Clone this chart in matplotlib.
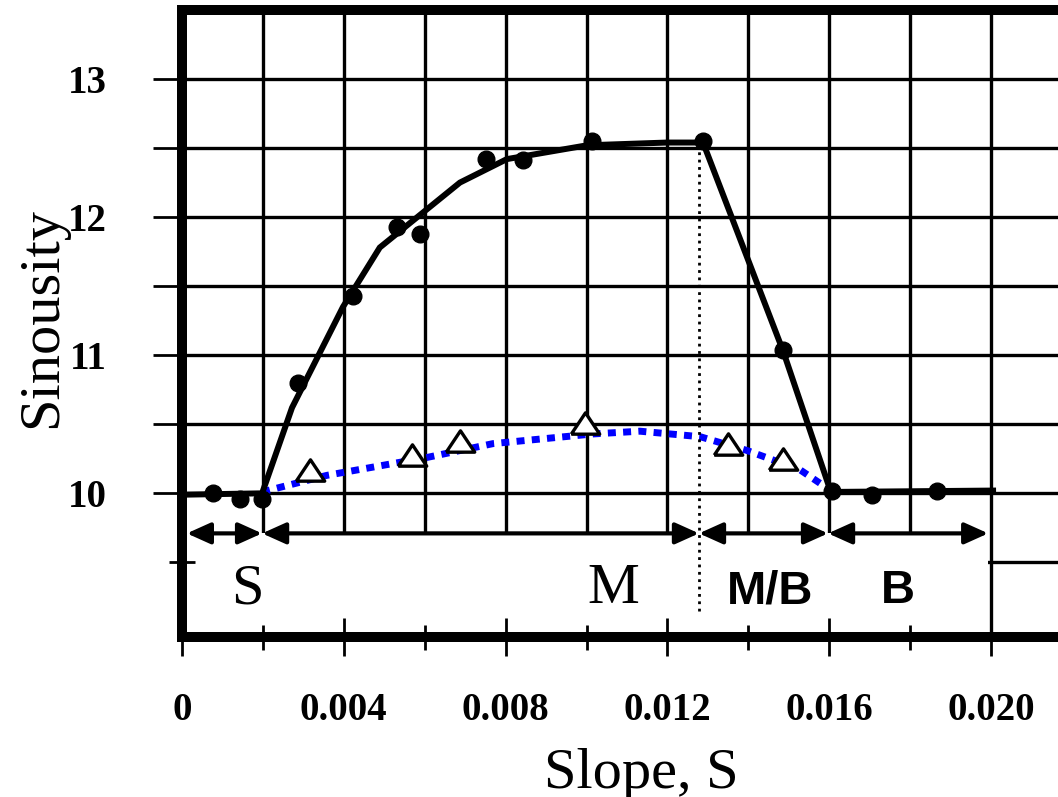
import matplotlib.pyplot as plt
from matplotlib.patches import Rectangle
import numpy as np

# measured points (filled circles)
circ_x = [0.00077, 0.00143, 0.00198, 0.00287, 0.00423, 0.00532, 0.00588, 0.00752,
          0.00843, 0.01014, 0.01288, 0.01486, 0.01607, 0.01706, 0.01867]
circ_y = [10.00, 9.96, 9.96, 10.80, 11.43, 11.93, 11.88, 12.42,
          12.41, 12.55, 12.55, 11.04, 10.02, 9.99, 10.02]

# fitted solid curve
fit_x = [0.0, 0.00198, 0.00272, 0.00398, 0.00489, 0.00687, 0.00803, 0.01001,
         0.01199, 0.01288, 0.01486, 0.01604, 0.02005]
fit_y = [9.99, 10.00, 10.62, 11.35, 11.78, 12.25, 12.42, 12.52,
         12.54, 12.54, 11.03, 10.01, 10.02]

# open triangles and dotted blue curve
tri_x = [0.00316, 0.00569, 0.00687, 0.00996, 0.01350, 0.01486]
tri_y = [10.17, 10.28, 10.38, 10.51, 10.36, 10.25]

blue_x = [0.00198, 0.00358, 0.00606, 0.00769, 0.01016, 0.01132, 0.01281,
          0.01397, 0.01528, 0.01604]
blue_y = [10.01, 10.13, 10.26, 10.36, 10.43, 10.45, 10.41, 10.31, 10.17, 10.02]

# channel pattern zones
zone_names = ['S', 'M', 'M/B', 'B']
zone_label_x = [0.00161, 0.01066, 0.01454, 0.01770]
zone_bounds = [0.00012, 0.00198, 0.01278, 0.01597, 0.01993]
zone_sans = [False, False, True, True]

xtick_vals = [0, 0.004, 0.008, 0.012, 0.016, 0.020]
xtick_labels = ['0', '0.004', '0.008', '0.012', '0.016', '0.020']
ytick_vals = [10, 11, 12, 13]

serif = 'Liberation Serif'
sans = 'Liberation Sans'

fig = plt.figure(figsize=(10.58, 7.97), dpi=100)
ax = fig.add_axes([0.1720, 0.2008, 0.8412, 0.7867])
ax.set_xlim(0, 0.022)
ax.set_ylim(8.96, 13.5)

# grid drawn by hand so the lower band can be blanked out
for gx in np.arange(0.002, 0.0211, 0.002):
    ax.axvline(gx, color='black', lw=2.4, zorder=1)
for gy in np.arange(9.5, 13.01, 0.5):
    ax.axhline(gy, color='black', lw=2.4, zorder=1)
ax.add_patch(Rectangle((0, 8.9), 0.01993, 9.71 - 8.9, facecolor='white',
                       edgecolor='none', zorder=1.5))

ax.plot(blue_x, blue_y, color='#0000ff', lw=5, linestyle=(0, (1.15, 1.05)),
        dash_capstyle='butt', zorder=3)
ax.plot(fit_x, fit_y, color='black', lw=4.3, solid_joinstyle='miter', zorder=3.5)
ax.plot(circ_x, circ_y, 'o', color='black', markersize=12, zorder=4)
tri = [(-1, -0.75), (1, -0.75), (0, 0.75), (-1, -0.75)]
ax.plot(tri_x, tri_y, linestyle='none', marker=tri, markersize=20.5,
        markerfacecolor='white', markeredgecolor='black', markeredgewidth=2.4,
        zorder=4.5)

# boundary between M and M/B
ax.plot([zone_bounds[2], zone_bounds[2]], [9.15, 12.55], color='black', lw=2,
        linestyle=':', zorder=3)

arrow_y = 9.71
for i in range(len(zone_names)):
    ax.annotate('', xy=(zone_bounds[i + 1], arrow_y), xytext=(zone_bounds[i], arrow_y),
                arrowprops=dict(arrowstyle='<|-|>,head_length=0.8,head_width=0.36',
                                mutation_scale=18, lw=3, color='black',
                                shrinkA=0, shrinkB=0), zorder=4)
    if zone_sans[i]:
        ax.text(zone_label_x[i], 9.203, zone_names[i], fontsize=34, family=sans,
                fontweight='bold', ha='center', va='baseline', zorder=5)
    else:
        ax.text(zone_label_x[i], 9.203, zone_names[i], fontsize=42, family=serif,
                ha='center', va='baseline', zorder=5)

for s in ax.spines.values():
    s.set_linewidth(7.2)
ax.set_axisbelow(False)

ax.set_xticks(xtick_vals)
ax.set_xticklabels(xtick_labels)
ax.set_xticks(np.arange(0.002, 0.0201, 0.004), minor=True)
ytick_pos = [10, 10.5, 11, 11.5, 12, 12.5, 13]
ax.set_yticks(ytick_pos)
ax.set_yticklabels(['%d' % v if v in ytick_vals else '' for v in ytick_pos])
ax.set_yticks([9.5], minor=True)

ax.tick_params(axis='x', which='major', direction='inout', length=27, width=2,
               pad=26)
ax.tick_params(axis='x', which='minor', direction='inout', length=18, width=2)
ax.tick_params(axis='y', which='major', direction='inout', length=42, width=2,
               pad=33)
ax.tick_params(axis='y', which='minor', direction='inout', length=19, width=2)
for lab in ax.get_xticklabels() + ax.get_yticklabels():
    lab.set_fontfamily(serif)
    lab.set_fontweight('bold')
    lab.set_fontsize(28)

ax.set_xlabel('Slope, S', fontsize=42, family=serif)
ax.xaxis.set_label_coords(0.516, -0.177)
ax.set_ylabel('Sinousity', fontsize=42, family=serif)
ax.yaxis.set_label_coords(-0.128, 0.510)

fig.savefig('out.png', dpi=100)
